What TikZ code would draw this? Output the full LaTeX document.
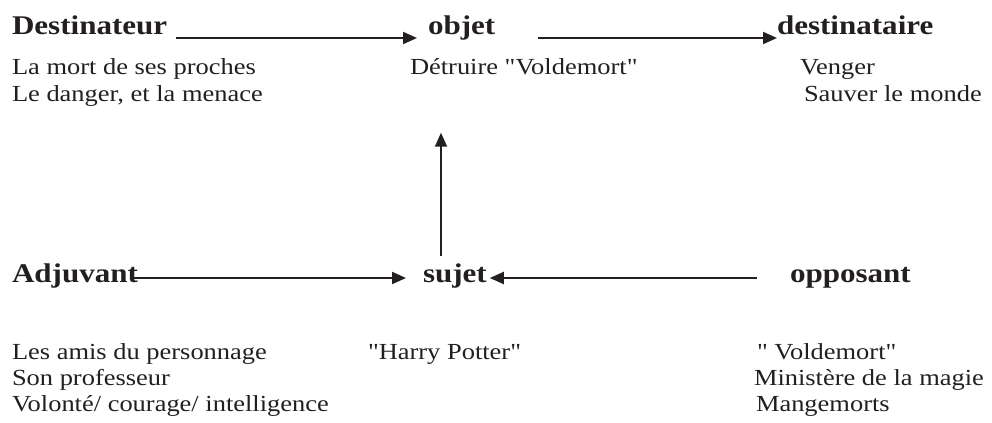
\documentclass[tikz,border=0pt]{standalone}
\usepackage{fontspec}
\newfontfamily\docfont[FakeStretch=1.15]{Liberation Serif}
\usetikzlibrary{positioning,arrows.meta,calc}
\definecolor{ink}{HTML}{231F20}
\tikzset{
  role/.style={anchor=base west, inner sep=0pt, outer sep=0pt, font=\docfont\fontsize{13.5}{16}\selectfont\bfseries, text=ink},
  item/.style={anchor=base west, inner sep=0pt, outer sep=0pt, font=\docfont\fontsize{11.5}{13}\selectfont, text=ink},
  fl/.style={-{Triangle[length=7pt,width=6pt]}, draw=ink, line width=1pt},
}
\begin{document}
\begin{tikzpicture}[x=0.5pt, y=-0.5pt]
\useasboundingbox (0,0) rectangle (992,423);
% axe du haut
\node[role] (dest) at (12,34) {Destinateur};
\node[role] (obj) at (428,34) {objet};
\node[role] (dre) at (777,34) {destinataire};
\node[item] (dest1) at (12,75) {La mort de ses proches};
\node[item] (dest2) at (12,101) {Le danger, et la menace};
\node[item] (obj1) at (410,75) {Détruire "Voldemort"};
\node[item] (dre1) at (800,75) {Venger};
\node[item] (dre2) at (804,101) {Sauver le monde};
% axe du bas
\node[role] (adj) at (12,282) {Adjuvant};
\node[role] (suj) at (423,282) {sujet};
\node[role] (opp) at (790,282) {opposant};
\node[item] (adj1) at (12,359) {Les amis du personnage};
\node[item] (adj2) at (12,385) {Son professeur};
\node[item] (adj3) at (12,411) {Volonté/ courage/ intelligence};
\node[item] (suj1) at (368,359) {"Harry Potter"};
\node[item] (opp1) at (757,359) {" Voldemort"};
\node[item] (opp2) at (754,385) {Ministère de la magie};
\node[item] (opp3) at (756,411) {Mangemorts};
\coordinate (vx) at (441,0);
\draw[fl, shorten <=4.5pt, shorten >=5.5pt] ([yshift=-2pt]dest.base east) -- ([yshift=-2pt]obj.base west);
\draw[fl, shorten <=21.5pt] ([yshift=-2pt]obj.base east) -- ([yshift=-2pt]dre.base west);
\draw[fl, shorten <=3.5pt, shorten >=46.5pt] (suj.north -| vx) -- (obj.south -| vx);
\draw[fl, shorten <=-2pt, shorten >=8.5pt] ([yshift=2pt]adj.base east) -- ([yshift=2pt]suj.base west);
\draw[fl, shorten <=16.5pt, shorten >=1.5pt] ([yshift=2pt]opp.base west) -- ([yshift=2pt]suj.base east);
\end{tikzpicture}
\end{document}
